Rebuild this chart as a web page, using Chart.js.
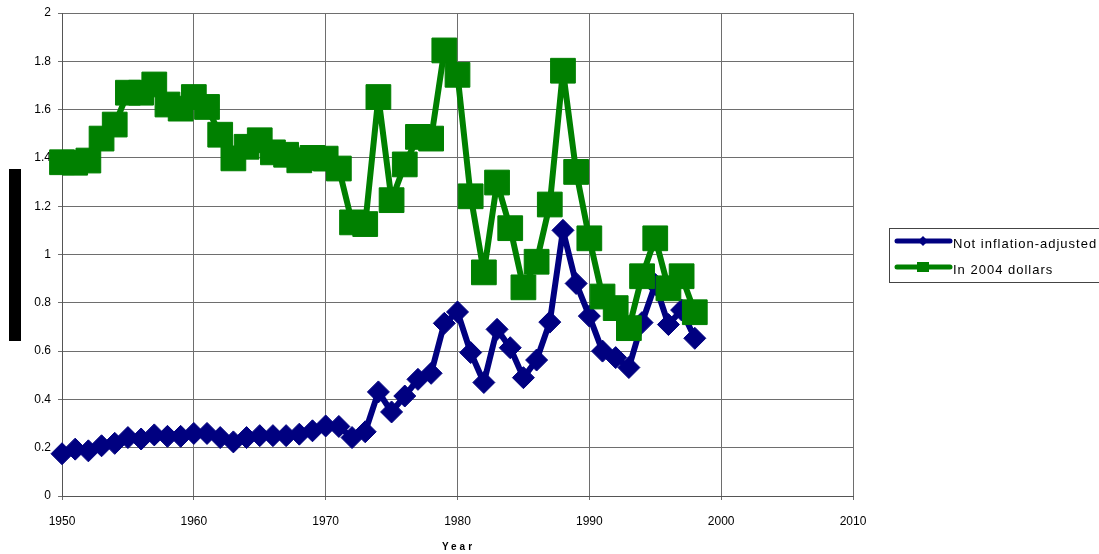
<!DOCTYPE html>
<html>
<head>
<meta charset="utf-8">
<script src="https://cdn.jsdelivr.net/npm/chart.js@4/dist/chart.umd.min.js"></script>
<style>
  html, body { margin: 0; padding: 0; background: #fff; }
  #wrap { width: 1099px; height: 554px; position: relative; }
</style>
</head>
<body>
<div id="wrap"><canvas id="chart"></canvas></div>
<script>
// Annual values, 1950-1998
const years = [
  1950, 1951, 1952, 1953, 1954, 1955, 1956, 1957, 1958, 1959,
  1960, 1961, 1962, 1963, 1964, 1965, 1966, 1967, 1968, 1969,
  1970, 1971, 1972, 1973, 1974, 1975, 1976, 1977, 1978, 1979,
  1980, 1981, 1982, 1983, 1984, 1985, 1986, 1987, 1988, 1989,
  1990, 1991, 1992, 1993, 1994, 1995, 1996, 1997, 1998
];

const notInflationAdjusted = [
  0.175, 0.194, 0.187, 0.208, 0.218, 0.242, 0.236, 0.253, 0.247, 0.247,
  0.259, 0.259, 0.242, 0.224, 0.242, 0.250, 0.250, 0.250, 0.256, 0.270,
  0.290, 0.288, 0.242, 0.266, 0.431, 0.348, 0.414, 0.483, 0.508, 0.715,
  0.762, 0.594, 0.470, 0.690, 0.614, 0.490, 0.563, 0.720, 1.100, 0.880,
  0.745, 0.600, 0.573, 0.532, 0.718, 0.876, 0.710, 0.770, 0.653
];

const in2004Dollars = [
  1.382, 1.380, 1.389, 1.480, 1.538, 1.670, 1.670, 1.704, 1.621, 1.604,
  1.652, 1.611, 1.496, 1.398, 1.446, 1.473, 1.423, 1.413, 1.390, 1.400,
  1.397, 1.356, 1.133, 1.126, 1.652, 1.225, 1.373, 1.487, 1.480, 1.845,
  1.744, 1.241, 0.926, 1.298, 1.109, 0.864, 0.970, 1.207, 1.761, 1.342,
  1.067, 0.826, 0.778, 0.695, 0.910, 1.067, 0.860, 0.910, 0.761
];

const seriesLabels = ['Not inflation-adjusted', 'In 2004 dollars'];
const xTickValues = [1950, 1960, 1970, 1980, 1990, 2000, 2010];
const yTickValues = [0, 0.2, 0.4, 0.6, 0.8, 1, 1.2, 1.4, 1.6, 1.8, 2];
const xAxisTitle = 'Year';

const NAVY = '#000080';
const GREEN = '#008000';
const GRID = '#6e6e6e';
const FONT = "'Liberation Sans', Arial, sans-serif";

const toPoints = vals => years.map((y, i) => ({ x: y, y: vals[i] }));

// Boxed legend at the right, axis title and the vertical bar on the left
const decorations = {
  id: 'decorations',
  afterDraw(chart) {
    const ctx = chart.ctx;
    const area = chart.chartArea;
    ctx.save();

    // vertical bar beside the value axis
    ctx.fillStyle = '#000';
    ctx.fillRect(9, 169, 12, 172);

    // x axis title
    ctx.fillStyle = '#000';
    ctx.font = "bold 10px " + FONT;
    ctx.textAlign = 'center';
    ctx.textBaseline = 'alphabetic';
    ctx.letterSpacing = '3px';
    ctx.fillText(xAxisTitle, (area.left + area.right) / 2 + 1, 550);
    ctx.letterSpacing = '0px';

    // legend box
    ctx.fillStyle = '#fff';
    ctx.fillRect(889.5, 228.5, 215, 54);
    ctx.strokeStyle = '#444';
    ctx.lineWidth = 1;
    ctx.strokeRect(889.5, 228.5, 215, 54);

    const rows = [
      { ds: chart.data.datasets[0], y: 241, marker: 'diamond' },
      { ds: chart.data.datasets[1], y: 267, marker: 'square' }
    ];
    rows.forEach(r => {
      ctx.strokeStyle = r.ds.borderColor;
      ctx.fillStyle = r.ds.borderColor;
      ctx.lineWidth = 5;
      ctx.lineCap = 'round';
      ctx.beginPath();
      ctx.moveTo(897, r.y);
      ctx.lineTo(950, r.y);
      ctx.stroke();
      ctx.beginPath();
      if (r.marker === 'diamond') {
        ctx.moveTo(923, r.y - 5);
        ctx.lineTo(928, r.y);
        ctx.lineTo(923, r.y + 5);
        ctx.lineTo(918, r.y);
        ctx.closePath();
      } else {
        ctx.rect(917, r.y - 5, 12, 10);
      }
      ctx.fill();

      ctx.fillStyle = '#000';
      ctx.font = "13px " + FONT;
      ctx.textAlign = 'left';
      ctx.textBaseline = 'alphabetic';
      ctx.letterSpacing = '1px';
      ctx.fillText(r.ds.label, 953, r.y + 6.5);
      ctx.letterSpacing = '0px';
    });

    ctx.restore();
  }
};

new Chart(document.getElementById('chart'), {
  type: 'line',
  data: {
    datasets: [
      {
        label: seriesLabels[0],
        data: toPoints(notInflationAdjusted),
        borderColor: NAVY,
        backgroundColor: NAVY,
        borderWidth: 6,
        borderJoinStyle: 'round',
        pointStyle: 'rectRot',
        pointRadius: 11,
        pointHoverRadius: 11,
        pointBackgroundColor: NAVY,
        pointBorderColor: NAVY,
        pointBorderWidth: 1,
        tension: 0,
        clip: false,
        order: 1
      },
      {
        label: seriesLabels[1],
        data: toPoints(in2004Dollars),
        borderColor: GREEN,
        backgroundColor: GREEN,
        borderWidth: 6,
        borderJoinStyle: 'round',
        pointStyle: 'rect',
        pointRadius: 17.5,
        pointHoverRadius: 17.5,
        pointBackgroundColor: GREEN,
        pointBorderColor: GREEN,
        pointBorderWidth: 1,
        tension: 0,
        clip: false,
        order: 0
      }
    ]
  },
  options: {
    responsive: true,
    maintainAspectRatio: false,
    animation: false,
    devicePixelRatio: 1,
    layout: { autoPadding: false, padding: { top: 13, right: 246, bottom: 0, left: 0 } },
    plugins: {
      legend: { display: false },
      tooltip: { enabled: false }
    },
    events: [],
    scales: {
      x: {
        type: 'linear',
        min: 1950,
        max: 2010,
        afterBuildTicks: s => { s.ticks = xTickValues.map(v => ({ value: v })); },
        afterFit: s => { s.height = 58; },
        grid: { color: GRID, lineWidth: 1, tickLength: 4, tickColor: GRID },
        border: { color: '#555', width: 1 },
        ticks: {
          color: '#000',
          font: { family: FONT, size: 12 },
          padding: 14,
          maxRotation: 0,
          autoSkip: false,
          callback: v => String(v)
        }
      },
      y: {
        min: 0,
        max: 2,
        afterBuildTicks: s => { s.ticks = yTickValues.map(v => ({ value: v })); },
        afterFit: s => { s.width = 62; s.paddingTop = 0; s.paddingBottom = 0; },
        grid: { color: GRID, lineWidth: 1, tickLength: 4, tickColor: GRID },
        border: { color: '#555', width: 1 },
        ticks: {
          color: '#000',
          font: { family: FONT, size: 12 },
          padding: 7,
          autoSkip: false,
          callback: v => String(Math.round(v * 10) / 10)
        }
      }
    }
  },
  plugins: [decorations]
});
</script>
</body>
</html>
